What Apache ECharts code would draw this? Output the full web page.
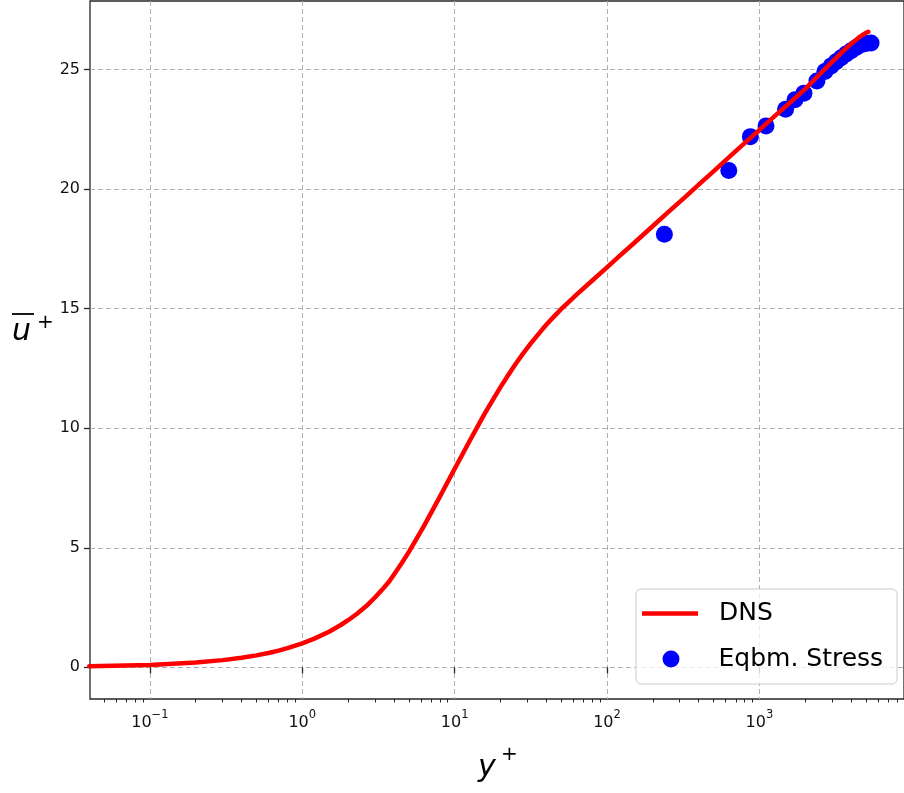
<!DOCTYPE html>
<html>
<head>
<meta charset="utf-8">
<script src="https://cdn.jsdelivr.net/npm/echarts@6/dist/echarts.min.js"></script>
<style>
  html, body { margin: 0; padding: 0; background: #ffffff; }
  #chart { width: 904px; height: 793px; }
</style>
</head>
<body>
<div id="chart"></div>
<script>
// Mean streamwise velocity profile from DNS, in wall units
const dnsYPlus = [0.04, 0.1, 0.2, 0.3, 0.4, 0.5, 0.6, 0.7, 0.8, 1.0, 1.2, 1.5, 1.8, 2.0, 2.3, 2.62, 3.0, 3.4, 3.73, 3.98,
                  4.47, 5.01, 5.62, 6.31, 7.08, 7.94, 8.91, 10, 11.22, 12.59, 14.13, 15.85, 17.78, 19.95, 22.39, 25.12, 28.18, 31.62, 35.48, 39.81,
                  44.67, 50.12, 56.23, 63.1, 79.43, 100, 120, 150, 200, 250, 320, 400, 500, 630, 800, 1000, 1250, 1500, 2000, 2500,
                  3000, 3500, 4000, 4500, 5000, 5186];
const dnsUPlus = [0.04, 0.1, 0.2, 0.3, 0.4, 0.5, 0.6, 0.7, 0.8, 1.0, 1.2, 1.49, 1.78, 1.97, 2.25, 2.55, 2.92, 3.3, 3.6, 3.86,
                  4.33, 4.83, 5.37, 5.93, 6.51, 7.1, 7.7, 8.3, 8.89, 9.49, 10.07, 10.64, 11.18, 11.71, 12.21, 12.69, 13.13, 13.55, 13.94, 14.32,
                  14.66, 14.99, 15.29, 15.59, 16.16, 16.73, 17.19, 17.74, 18.46, 19.02, 19.63, 20.19, 20.75, 21.33, 21.93, 22.48, 23.04, 23.48, 24.2, 24.82,
                  25.33, 25.75, 26.08, 26.35, 26.54, 26.58];

// Equilibrium-stress wall model samples
const eqYPlus = [238, 630, 873, 1106, 1486, 1713, 1961, 2386, 2692, 2960, 3190, 3443, 3712, 4000, 4315, 4652, 5017, 5410];
const eqUPlus = [18.12, 20.78, 22.2, 22.65, 23.35, 23.74, 24.02, 24.53, 24.92, 25.16, 25.33, 25.5, 25.66, 25.79, 25.93, 26.04, 26.1, 26.12];

// Axis ticks
const xMajorTicks = [0.1, 1, 10, 100, 1000];
const yTicks = [0, 5, 10, 15, 20, 25];
const xRange = [0.04046, 8896];
const yRange = [-1.326, 27.874];

// minor ticks at 2..9 x 10^n inside the visible range
const xMinorTicks = [];
for (let n = -2; n <= 3; n++) {
  for (let k = 2; k <= 9; k++) {
    const v = k * Math.pow(10, n);
    if (v > xRange[0] && v < xRange[1]) xMinorTicks.push(v);
  }
}

const FONT = 'DejaVu Sans';
const gridDash = { color: '#b0b0b0', width: 1, type: [5, 3] };

function pow10Label(v) {
  const n = Math.round(Math.log10(v));
  const e = n < 0 ? '\u2212' + (-n) : String(n);
  return '{b|10}{e|' + e + '}';
}

const chart = echarts.init(document.getElementById('chart'), null, { renderer: 'canvas' });

chart.setOption({
  animation: false,
  backgroundColor: '#ffffff',
  grid: {
    left: 90, right: -2, top: 1, bottom: 94,
    show: true, borderColor: '#262626', borderWidth: 1.3, backgroundColor: 'transparent'
  },
  xAxis: [
    {
      type: 'log', logBase: 10, min: xRange[0], max: xRange[1],
      axisLine: { show: false },
      axisTick: { show: true, customValues: xMajorTicks, length: 6, lineStyle: { color: '#262626', width: 1.3 } },
      axisLabel: {
        customValues: xMajorTicks, margin: 10, formatter: pow10Label,
        rich: {
          b: { fontFamily: FONT, fontSize: 16, color: '#111', lineHeight: 22, verticalAlign: 'bottom' },
          e: { fontFamily: FONT, fontSize: 11.5, color: '#111', lineHeight: 22, verticalAlign: 'top' }
        }
      },
      splitLine: { show: true, lineStyle: gridDash }
    },
    {
      type: 'log', logBase: 10, min: xRange[0], max: xRange[1], position: 'bottom',
      axisLine: { show: false },
      axisTick: { show: true, customValues: xMinorTicks, length: 3.5, lineStyle: { color: '#262626', width: 1 } },
      axisLabel: { show: false },
      splitLine: { show: false }
    }
  ],
  yAxis: {
    type: 'value', min: yRange[0], max: yRange[1],
    axisLine: { show: false },
    axisTick: { show: true, customValues: yTicks, length: 6, lineStyle: { color: '#262626', width: 1.3 } },
    axisLabel: { customValues: yTicks, margin: 10, fontFamily: FONT, fontSize: 16, color: '#111' },
    splitLine: { show: true, lineStyle: gridDash }
  },
  legend: [
    {
      data: [{ name: 'DNS', icon: 'rect' }],
      left: 642, top: 600, padding: 0, itemWidth: 56, itemHeight: 4.5,
      selectedMode: false, z: 8,
      textStyle: { fontFamily: FONT, fontSize: 25, color: '#000', lineHeight: 27, padding: [0, 0, 0, 16] }
    },
    {
      data: [{ name: 'Eqbm. Stress', icon: 'circle' }],
      left: 662.5, top: 645.5, padding: 0, itemWidth: 17, itemHeight: 17,
      selectedMode: false, z: 8,
      textStyle: { fontFamily: FONT, fontSize: 25, color: '#000', lineHeight: 27, padding: [0, 0, 0, 34] }
    }
  ],
  graphic: [
    {
      type: 'rect', z: 6, silent: true,
      shape: { x: 636, y: 589, width: 261, height: 95, r: 5 },
      style: { fill: 'rgba(255,255,255,0.8)', stroke: '#cccccc', lineWidth: 1 }
    },
    // y-axis title: mean velocity with overline
    {
      type: 'text', z: 10, silent: true, left: 12, top: 317,
      style: { text: 'u', font: 'italic 30px "DejaVu Sans"', fill: '#000' }
    },
    {
      type: 'line', z: 10, silent: true,
      shape: { x1: 12, y1: 314, x2: 34, y2: 314 },
      style: { stroke: '#000', lineWidth: 1.8 }
    },
    {
      type: 'text', z: 10, silent: true, left: 37, top: 313,
      style: { text: '+', font: '20px "DejaVu Sans"', fill: '#000' }
    },
    // x-axis title
    {
      type: 'text', z: 10, silent: true, left: 478, top: 753,
      style: { text: 'y', font: 'italic 30px "DejaVu Sans"', fill: '#000' }
    },
    {
      type: 'text', z: 10, silent: true, left: 501, top: 745,
      style: { text: '+', font: '20px "DejaVu Sans"', fill: '#000' }
    }
  ],
  series: [
    {
      name: 'DNS', type: 'line', xAxisIndex: 0, z: 3,
      data: dnsYPlus.map((y, i) => [y, dnsUPlus[i]]),
      showSymbol: false, smooth: false,
      lineStyle: { color: '#ff0000', width: 4.5, join: 'round', cap: 'round' },
      itemStyle: { color: '#ff0000' }
    },
    {
      name: 'Eqbm. Stress', type: 'scatter', xAxisIndex: 0, z: 2,
      data: eqYPlus.map((y, i) => [y, eqUPlus[i]]),
      symbol: 'circle', symbolSize: 17,
      itemStyle: { color: '#0000ff', opacity: 1 }
    }
  ]
});
</script>
</body>
</html>
